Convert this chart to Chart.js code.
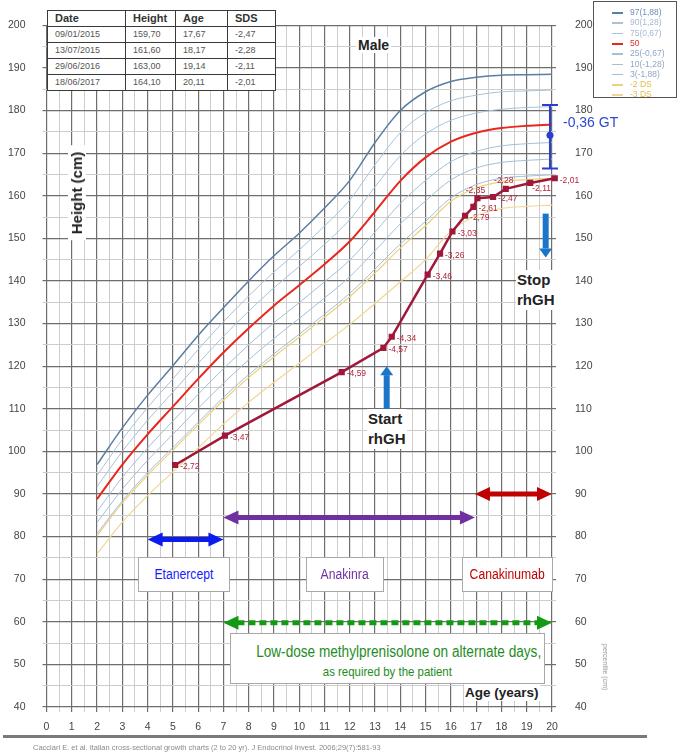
<!DOCTYPE html>
<html>
<head>
<meta charset="utf-8">
<script src="https://cdn.jsdelivr.net/npm/chart.js@4.4.1/dist/chart.umd.min.js"></script>
<style>
  html, body { margin:0; padding:0; background:#fff; }
  #wrap { position:relative; width:682px; height:754px; overflow:hidden; font-family:"Liberation Sans", Arial, sans-serif; }
  #chart { position:absolute; left:0; top:0; }
  .ov { position:absolute; white-space:nowrap; }
  #tbl { position:absolute; left:47px; top:10px; border-collapse:collapse; background:#fff; table-layout:fixed; }
  #tbl td { border:1.4px solid #3a3a3a; padding:0 0 0 7px; height:15px; font-size:9px; color:#555; line-height:15px; }
  #tbl tr.h td { font-weight:bold; font-size:11px; color:#333; height:15px; }
  #legend { position:absolute; left:593px; top:1px; width:84px; height:97px; border:1.5px solid #555; background:#fff; box-sizing:border-box; }
  .li { position:absolute; left:36px; font-size:8.5px; line-height:10px; }
  .ln { position:absolute; left:18px; width:11px; }
  .box { position:absolute; background:#fff; border:1px solid #a8a8a8; box-sizing:border-box; text-align:center; white-space:nowrap; }
  .nar { display:inline-block; transform:scaleX(0.87); transform-origin:50% 50%; }
  .bold { font-weight:bold; color:#222; background:#fff; }
</style>
</head>
<body>
<div id="wrap">
  <canvas id="chart" width="682" height="754"></canvas>
  <table id="tbl"></table>
  <div id="legend"></div>
  <div class="ov bold" style="left:356px;top:37px;font-size:14px;line-height:16px;padding:0 2px">Male</div>
  <div class="ov bold" style="left:77px;top:193px;font-size:15px;line-height:18px;padding:0 6px;transform:translate(-50%,-50%) rotate(-90deg)">Height (cm)</div>
  <div class="ov" style="left:563px;top:113px;font-size:14px;line-height:18px;color:#2f49d1">-0,36 GT</div>
  <div class="ov bold" style="left:516px;top:270px;font-size:15px;line-height:20px;padding:0 1px">Stop<br>rhGH</div>
  <div class="ov bold" style="left:367px;top:409px;font-size:15px;line-height:20px;padding:0 1px">Start<br>rhGH</div>
  <div class="box" style="left:138px;top:557px;width:92px;height:35px;line-height:33px;font-size:14px;color:#1a1aff"><span class="nar">Etanercept</span></div>
  <div class="box" style="left:306px;top:557px;width:78px;height:35px;line-height:33px;font-size:14px;color:#7030a0"><span class="nar">Anakinra</span></div>
  <div class="box" style="left:462px;top:557px;width:91px;height:35px;line-height:33px;font-size:14px;color:#c00000"><span class="nar">Canakinumab</span></div>
  <div class="box" style="left:230px;top:633px;width:315px;height:51px;color:#1e8c1e">
    <div style="font-size:16px;line-height:18px;margin-top:9px"><span class="nar" style="transform:scaleX(0.85)">Low-dose methylprenisolone on alternate days,</span></div>
    <div style="font-size:13px;line-height:17px;margin-top:2px"><span class="nar" style="transform:scaleX(0.88)">as required by the patient</span></div>
  </div>
  <div class="ov bold" style="left:464px;top:684px;font-size:13.5px;line-height:17px;padding:0 1px">Age (years)</div>
  <div class="ov" style="left:3px;top:735px;width:644px;height:3px;background:#7a7a7a"></div>
  <div class="ov" style="left:33px;top:743px;font-size:7.5px;line-height:9px;color:#8a8a8a">Cacciari E. et al. Italian cross-sectional growth charts (2 to 20 yr). J Endocrinol Invest. 2006;29(7):581-93</div>
  <div class="ov" style="left:605px;top:667px;font-size:7px;line-height:8px;color:#999;transform:translate(-50%,-50%) rotate(90deg)">percentile (cm)</div>
</div>
<script>
// ============ GROWTH REFERENCE (boys, 2-20 yr) ============
const ages = [2,3,4,5,6,7,8,9,10,11,12,13,14,15,16,17,18,19,20];
const p97  = [96.9,105.5,113.2,120.1,127.2,133.7,140.0,145.9,151.2,157.1,163.6,172.5,180.0,184.4,186.8,187.8,188.3,188.4,188.5];
const p90  = [94.3,102.8,110.3,117.0,123.9,130.4,136.5,142.1,147.3,152.9,159.0,167.3,174.8,179.5,182.3,183.6,184.4,184.6,184.8];
const p75  = [91.7,100.0,107.3,113.9,120.6,127.0,132.9,138.4,143.4,148.6,154.4,162.1,169.4,174.5,177.7,179.4,180.3,180.7,180.9];
const p50  = [88.8,96.9,104.0,110.5,117.0,123.2,128.9,134.2,139.0,143.9,149.3,156.3,163.5,169.0,172.7,174.8,175.9,176.4,176.7];
const p25  = [85.9,93.9,100.8,107.1,113.4,119.4,125.0,130.2,134.9,139.8,144.9,151.5,158.2,163.6,168.0,170.4,171.7,172.2,172.5];
const p10  = [83.3,91.1,97.9,104.0,110.1,116.0,121.5,126.5,131.2,136.0,141.0,147.1,153.4,158.8,163.7,166.5,167.8,168.3,168.6];
const p3   = [80.7,88.4,95.0,100.9,106.8,112.7,118.0,122.9,127.5,132.2,137.1,142.8,148.7,154.0,159.5,162.6,164.1,164.6,164.9];
const sdm2 = [80.2,87.9,94.4,100.3,106.2,112.0,117.3,122.2,126.8,131.5,136.3,141.9,147.7,153.0,158.7,161.8,163.3,163.8,164.1];
const sdm3 = [75.9,83.4,89.6,95.2,100.8,106.4,111.5,116.2,120.7,125.3,129.8,134.7,139.8,145.0,151.7,155.3,157.0,157.5,157.8];
const curveLabels = ['97(1,88)','90(1,28)','75(0,67)','50','25(-0,67)','10(-1,28)','3(-1,88)','-2 DS','-3 DS'];
const curveValues = [p97,p90,p75,p50,p25,p10,p3,sdm2,sdm3];

// ============ PATIENT ============
const ptAge    = [5.09,7.06,11.68,13.33,13.66,15.08,15.57,16.06,16.56,16.89,17.05,17.67,18.17,19.14,20.11];
const ptHeight = [96.8,103.7,118.6,124.3,126.9,141.5,146.4,151.6,155.3,157.4,159.4,159.7,161.6,163.0,164.1];
const ptSds    = [-2.72,-3.47,-4.59,-4.57,-4.34,-3.46,-3.26,-3.03,-2.79,-2.61,-2.35,-2.47,-2.28,-2.11,-2.01];

// last visits (table)
const visitDate   = ['09/01/2015','13/07/2015','29/06/2016','18/06/2017'];
const visitHeight = [159.70,161.60,163.00,164.10];
const visitAge    = [17.67,18.17,19.14,20.11];
const visitSds    = [-2.47,-2.28,-2.11,-2.01];

// ============ TREATMENTS ============
const therapies   = ['Etanercept','Anakinra','Canakinumab'];
const therapyFrom = [4.0, 7.0, 16.95];
const therapyTo   = [7.0, 16.95, 20.0];
const steroidFrom = 7.0, steroidTo = 20.0;
const rhghStart = 13.46, rhghStop = 19.75;
const targetMid = 174.2, targetLow = 166.4, targetHigh = 181.3;

// ============ STYLE ============
const curveColors = ['#5b7da3','#a9c2da','#a9c2da','#e8271e','#a3bfd9','#a3bfd9','#a3bfd9','#ecd27e','#f0d792'];
const curveWidths = [1.5,1,1,2,1,1,1,1.2,1.2];
const legendText  = ['#6f8fb8','#a4bad6','#a4bad6','#e03030','#8fa8c8','#8fa8c8','#8fa8c8','#e2bb4c','#e2bb4c'];
const therapyColors = ['#0a1cf0','#7030a0','#c00000'];
const therapyLevel  = [79.3, 84.5, 90.0];   // cm, where the arrows sit
const steroidLevel  = 59.8;
const labelPos = ['r','r','r','r','r','r','r','r','r','r','a','r','a','b','r'];
const fmt = v => v.toFixed(2).replace('.', ',');

// ============ TABLE + LEGEND ============
(function () {
  const t = document.getElementById('tbl');
  let h = '<colgroup><col style="width:78px"><col style="width:50px"><col style="width:52px"><col style="width:48px"></colgroup>';
  h += '<tr class="h"><td>Date</td><td>Height</td><td>Age</td><td>SDS</td></tr>';
  visitDate.forEach((d, i) => {
    h += `<tr><td>${d}</td><td>${fmt(visitHeight[i])}</td><td>${fmt(visitAge[i])}</td><td>${fmt(visitSds[i])}</td></tr>`;
  });
  t.innerHTML = h;
  const lg = document.getElementById('legend');
  curveLabels.forEach((l, i) => {
    const top = 5 + i * 10.3;
    lg.innerHTML += `<div class="ln" style="top:${top + 5}px;height:${i === 3 ? 2 : 1.5}px;background:${curveColors[i]}"></div>` +
      `<div class="li" style="top:${top}px;color:${legendText[i]}">${l}</div>`;
  });
})();

// ============ ANNOTATIONS ============
function hArrow(ctx, x1, x2, yy, color, dash) {
  const hl = 15, hw = 7;
  ctx.save();
  ctx.strokeStyle = color; ctx.fillStyle = color; ctx.lineWidth = 5;
  if (dash) ctx.setLineDash(dash);
  ctx.beginPath(); ctx.moveTo(x1 + hl - 1, yy); ctx.lineTo(x2 - hl + 1, yy); ctx.stroke();
  ctx.setLineDash([]);
  ctx.beginPath(); ctx.moveTo(x1, yy); ctx.lineTo(x1 + hl, yy - hw); ctx.lineTo(x1 + hl, yy + hw); ctx.closePath(); ctx.fill();
  ctx.beginPath(); ctx.moveTo(x2, yy); ctx.lineTo(x2 - hl, yy - hw); ctx.lineTo(x2 - hl, yy + hw); ctx.closePath(); ctx.fill();
  ctx.restore();
}
function vArrow(ctx, xx, yFrom, yTo, color) {
  const dir = yTo > yFrom ? 1 : -1, hl = 9, hw = 6.5;
  ctx.save();
  ctx.strokeStyle = color; ctx.fillStyle = color; ctx.lineWidth = 6;
  ctx.beginPath(); ctx.moveTo(xx, yFrom); ctx.lineTo(xx, yTo - dir * hl); ctx.stroke();
  ctx.beginPath(); ctx.moveTo(xx, yTo); ctx.lineTo(xx - hw, yTo - dir * hl); ctx.lineTo(xx + hw, yTo - dir * hl); ctx.closePath(); ctx.fill();
  ctx.restore();
}

const annoPlugin = {
  id: 'anno',
  afterDatasetsDraw(chart) {
    const {ctx, scales: {x, y}} = chart;
    therapies.forEach((t, i) => {
      hArrow(ctx, x.getPixelForValue(therapyFrom[i]), x.getPixelForValue(therapyTo[i]), y.getPixelForValue(therapyLevel[i]), therapyColors[i]);
    });
    hArrow(ctx, x.getPixelForValue(steroidFrom), x.getPixelForValue(steroidTo), y.getPixelForValue(steroidLevel), '#129a12', [7, 4]);

    vArrow(ctx, x.getPixelForValue(rhghStart), y.getPixelForValue(109.7), y.getPixelForValue(120.0), '#1b75c9');
    vArrow(ctx, x.getPixelForValue(rhghStop), y.getPixelForValue(155.8), y.getPixelForValue(145.5), '#1b75c9');

    // target height bracket
    const tx = x.getPixelForValue(19.92);
    ctx.save();
    ctx.strokeStyle = '#2a3fd0'; ctx.fillStyle = '#2a3fd0'; ctx.lineWidth = 2;
    ctx.beginPath();
    ctx.moveTo(tx, y.getPixelForValue(targetHigh)); ctx.lineTo(tx, y.getPixelForValue(targetLow));
    ctx.moveTo(tx - 8, y.getPixelForValue(targetHigh)); ctx.lineTo(tx + 8, y.getPixelForValue(targetHigh));
    ctx.moveTo(tx - 8, y.getPixelForValue(targetLow)); ctx.lineTo(tx + 8, y.getPixelForValue(targetLow));
    ctx.stroke();
    ctx.beginPath(); ctx.arc(tx, y.getPixelForValue(targetMid), 3.5, 0, Math.PI * 2); ctx.fill();
    ctx.restore();

    // SDS labels next to patient points
    const meta = chart.getDatasetMeta(0);
    ctx.save();
    ctx.font = '8.5px "Liberation Sans", Arial, sans-serif';
    ctx.fillStyle = '#b3243c';
    ctx.textBaseline = 'middle';
    meta.data.forEach((pt, i) => {
      const p = labelPos[i];
      if (p === 'a') { ctx.textAlign = 'center'; ctx.fillText(fmt(ptSds[i]), pt.x - 2, pt.y - 8); }
      else if (p === 'b') { ctx.textAlign = 'left'; ctx.fillText(fmt(ptSds[i]), pt.x + 2, pt.y + 6); }
      else { ctx.textAlign = 'left'; ctx.fillText(fmt(ptSds[i]), pt.x + 5, pt.y + 2); }
    });
    ctx.restore();
  }
};

// ============ CHART ============
const gridDark = '#6e6e6e', gridLight = '#cdcdcd';
const tickFont = {family: '"Liberation Sans", Arial, sans-serif', size: 10.5};

const datasets = [{
  label: 'patient',
  data: ptAge.map((a, i) => ({x: a, y: ptHeight[i]})),
  borderColor: '#a0173a', backgroundColor: '#a0173a', borderWidth: 2.5,
  pointStyle: 'rect', pointRadius: 2.6, tension: 0, clip: false, order: 0
}];
curveValues.forEach((vals, k) => {
  datasets.push({
    label: curveLabels[k],
    data: ages.map((a, i) => ({x: a, y: vals[i]})),
    borderColor: curveColors[k], borderWidth: curveWidths[k],
    pointRadius: 0, cubicInterpolationMode: 'monotone', order: 1
  });
});

const yTicks = (padding) => ({
  stepSize: 5, autoSkip: false, color: '#444', font: tickFont, padding,
  callback: v => (v % 10 === 0 ? v : '')
});
const yGrid = {
  color: c => (c.tick.value % 10 === 0 ? gridDark : gridLight),
  lineWidth: c => (c.tick.value % 10 === 0 ? 1.2 : 1),
  tickLength: 4
};

new Chart(document.getElementById('chart'), {
  type: 'line',
  data: {datasets},
  options: {
    responsive: false, animation: false, devicePixelRatio: 1,
    layout: {padding: {top: 9}},
    plugins: {legend: {display: false}, tooltip: {enabled: false}},
    scales: {
      x: {
        type: 'linear', min: 0, max: 20,
        ticks: {stepSize: 0.5, autoSkip: false, maxRotation: 0, color: '#444', font: tickFont, padding: 9,
                callback: v => (Number.isInteger(v) ? v : '')},
        grid: {color: c => (Number.isInteger(c.tick.value) ? gridDark : gridLight),
               lineWidth: c => (Number.isInteger(c.tick.value) ? 1.2 : 1), tickLength: 5},
        border: {display: false},
        afterFit(s) { s.height = 47; }
      },
      y: {
        min: 40, max: 200, ticks: yTicks(17), grid: yGrid, border: {display: false},
        afterFit(s) { s.width = 46.5; }
      },
      y2: {
        position: 'right', min: 40, max: 200, ticks: yTicks(19),
        grid: Object.assign({}, yGrid, {drawOnChartArea: false}), border: {display: false},
        afterFit(s) { s.width = 130; }
      }
    }
  },
  plugins: [annoPlugin]
});
</script>
</body>
</html>
